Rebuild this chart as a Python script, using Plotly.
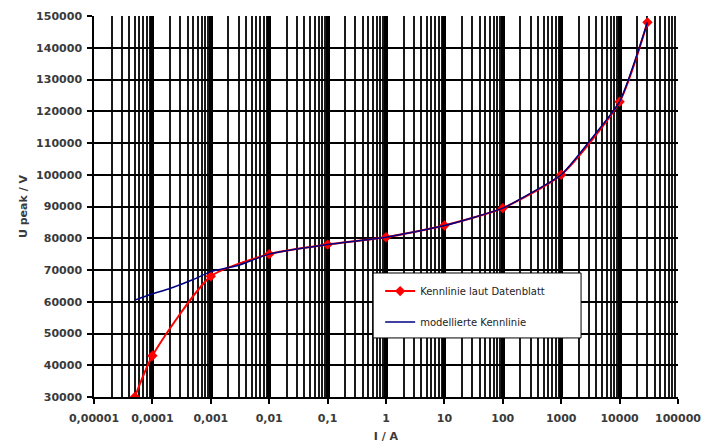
import plotly.graph_objects as go

# Kennlinie laut Datenblatt (Strom in A, Scheitelspannung in V)
strom_datenblatt = [5e-5, 1e-4, 1e-3, 1e-2, 1e-1, 1, 10, 100, 1000, 10000, 30000]
u_datenblatt = [30000, 43000, 68000, 75000, 78000, 80300, 84000, 89500, 100000, 123000, 148000]

# modellierte Kennlinie
strom_modell = [5e-5, 1e-4, 2e-4, 5e-4, 1e-3, 3e-3, 1e-2, 1e-1, 1, 10, 100, 300,
                1000, 3000, 10000, 20000, 30000]
u_modell = [60500, 62500, 64200, 67000, 69500, 71500, 75000, 78000, 80300, 84000,
            89500, 94200, 100000, 110400, 123000, 138000, 148000]

# Achsenbeschriftung
x_tickwerte = [1e-5, 1e-4, 1e-3, 1e-2, 1e-1, 1, 10, 100, 1000, 10000, 100000]
x_ticktexte = ["0,00001", "0,0001", "0,001", "0,01", "0,1", "1", "10", "100",
               "1000", "10000", "100000"]
y_tickwerte = list(range(30000, 150001, 10000))
y_ticktexte = [str(v) for v in y_tickwerte]

tick_font = dict(family="DejaVu Sans", size=11, color="#3a3a3a", weight="bold")

fig = go.Figure()

fig.add_trace(go.Scatter(
    x=strom_datenblatt, y=u_datenblatt,
    mode="lines+markers",
    name="Kennlinie laut Datenblatt",
    line=dict(color="#ff0000", width=2, shape="spline", smoothing=0.6),
    marker=dict(symbol="diamond", size=8, color="#ff0000"),
    legendgroup="a",
))

fig.add_trace(go.Scatter(
    x=strom_modell, y=u_modell,
    mode="lines",
    name="modellierte Kennlinie",
    line=dict(color="#000080", width=1.5, shape="spline", smoothing=0.6),
    legendgroup="b",
))

# weißer Legendenrahmen, breiter als die automatische Legende
fig.add_shape(
    type="rect", xref="paper", yref="paper",
    x0=0.478, x1=0.834, y0=0.155, y1=0.3255,
    fillcolor="white", line=dict(color="black", width=1), layer="above",
)

fig.update_layout(
    width=702, height=445,
    margin=dict(l=94, r=24, t=16, b=48, autoexpand=False),
    paper_bgcolor="white",
    plot_bgcolor="white",
    showlegend=True,
    legend=dict(
        x=0.49, y=0.316, xanchor="left", yanchor="top",
        bgcolor="rgba(0,0,0,0)", borderwidth=0,
        font=dict(family="DejaVu Sans", size=10, color="#222"),
        traceorder="grouped", tracegroupgap=12,
        itemwidth=30,
    ),
)

fig.update_xaxes(
    type="log",
    range=[-5, 5],
    automargin=False,
    tickvals=x_tickwerte,
    ticktext=x_ticktexte,
    tickfont=tick_font,
    ticks="outside", ticklen=5, tickcolor="black", tickwidth=1.5,
    ticklabelstandoff=5,
    showline=True, linecolor="black", linewidth=1.5,
    showgrid=True, gridcolor="black", gridwidth=3.5,
    minor=dict(dtick="D1", showgrid=True, gridcolor="#1a1a1a", gridwidth=1.6, ticks=""),
    zeroline=False,
    title=dict(text="I / A", font=tick_font, standoff=8),
)

fig.update_yaxes(
    range=[30000, 150000],
    automargin=False,
    tickvals=y_tickwerte,
    ticktext=y_ticktexte,
    tickfont=tick_font,
    ticks="outside", ticklen=5, tickcolor="black", tickwidth=1.5,
    ticklabelstandoff=3,
    showline=True, linecolor="black", linewidth=1.5,
    showgrid=True, gridcolor="black", gridwidth=2,
    zeroline=False,
    title=dict(text="U peak / V", font=tick_font, standoff=6),
)

fig.write_html("out.html")
